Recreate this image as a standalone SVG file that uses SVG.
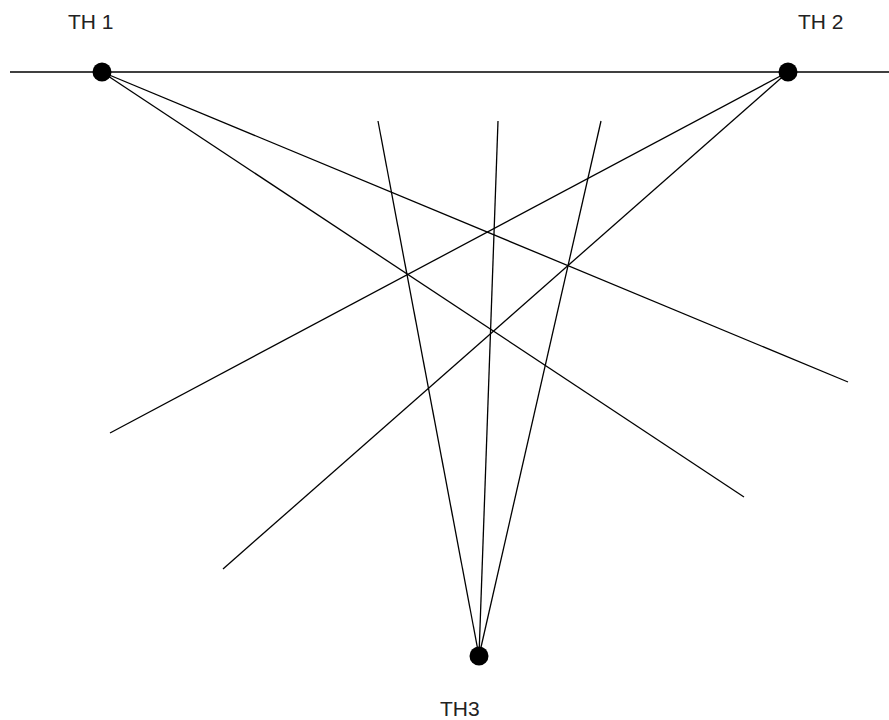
<svg xmlns="http://www.w3.org/2000/svg" width="889" height="720" viewBox="0 0 889 720">
<style>
.ln{stroke:#000;stroke-width:1.3;fill:none}
.base{stroke:#000;stroke-width:1.6}
.dot{fill:#000}
.lbl{font-family:"Liberation Sans",Arial,sans-serif;font-size:21px;fill:#222}
</style>
<rect width="889" height="720" fill="#fff"/>
<g id="connectors">
<line class="base" x1="10" y1="72" x2="889" y2="72"/>
<line class="ln" x1="102" y1="72" x2="848" y2="382"/>
<line class="ln" x1="102" y1="72" x2="744" y2="497"/>
<line class="ln" x1="788" y1="72" x2="110" y2="433"/>
<line class="ln" x1="788" y1="72" x2="223" y2="569"/>
<line class="ln" x1="479" y1="656" x2="378" y2="121"/>
<line class="ln" x1="479" y1="656" x2="498" y2="121"/>
<line class="ln" x1="479" y1="656" x2="601" y2="121"/>
</g>
<g id="TH1">
<circle class="dot" cx="102" cy="72" r="9.5"/>
<text class="lbl" x="68" y="29">TH 1</text>
</g>
<g id="TH2">
<circle class="dot" cx="788" cy="72" r="9.5"/>
<text class="lbl" x="798" y="29">TH 2</text>
</g>
<g id="TH3">
<circle class="dot" cx="479" cy="656" r="9.5"/>
<text class="lbl" x="440" y="716">TH3</text>
</g>
</svg>
